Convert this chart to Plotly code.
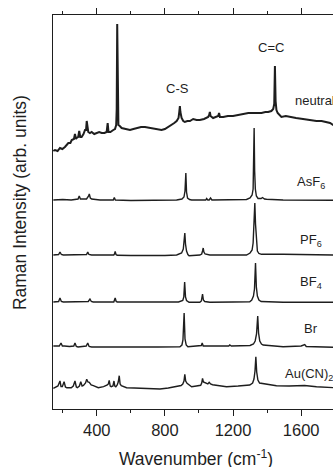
import plotly.graph_objects as go

# Raman spectra, stacked for display: (wavenumber in cm^-1, intensity in arb. units)
neutral = [(145, 258), (155, 259), (170, 258), (184, 261), (198, 260), (213, 262), (233, 266), (245, 266),
           (253, 269), (266, 270), (272, 275), (278, 270), (282, 271), (291, 272), (297, 278), (303, 272),
           (311, 272), (322, 275), (331, 279), (337, 279), (341, 288), (345, 279), (350, 277), (360, 276),
           (370, 277), (385, 275), (399, 276), (414, 277), (429, 276), (445, 276), (458, 277), (464, 286),
           (469, 277), (480, 277), (497, 279), (507, 280), (514, 284), (517, 300), (520, 385), (523, 295),
           (527, 284), (535, 283), (546, 281), (570, 280), (595, 279), (615, 280), (634, 281), (660, 282),
           (683, 282), (712, 281), (740, 280), (761, 279), (780, 279), (800, 280), (820, 282), (839, 284),
           (855, 286), (869, 288), (880, 291), (885, 298), (888, 303), (891, 297), (898, 291), (908, 288),
           (917, 287), (932, 288), (947, 288), (966, 290), (986, 289), (1005, 289), (1030, 290), (1054, 292),
           (1060, 294), (1064, 297), (1068, 293), (1083, 291), (1100, 292), (1113, 293), (1118, 296),
           (1123, 292), (1142, 292), (1170, 293), (1200, 293), (1230, 294), (1259, 295), (1290, 296),
           (1318, 296), (1340, 296), (1367, 296), (1390, 297), (1406, 297), (1425, 298), (1436, 300),
           (1442, 305), (1446, 343), (1450, 308), (1455, 299), (1462, 296), (1484, 292), (1510, 293),
           (1533, 292), (1570, 291), (1611, 290), (1650, 289), (1690, 288), (1720, 288), (1748, 287),
           (1770, 286), (1787, 284), (1800, 283)]

asf6 = [(145, 209), (200, 209.5), (250, 209), (290, 210), (297, 213), (304, 210), (321, 210), (340, 210),
        (352, 213), (356, 215), (362, 211), (370, 210), (419, 209), (497, 209), (503, 211.5), (509, 209),
        (600, 208.5), (712, 208.5), (800, 208.5), (869, 209), (900, 210), (912, 212), (918, 218), (923, 236),
        (927, 217), (933, 211), (945, 209.5), (957, 209), (1000, 209), (1040, 209), (1045, 210.5),
        (1052, 209), (1060, 209), (1068, 211), (1076, 209), (1083, 209), (1200, 209), (1279, 209.5),
        (1300, 211), (1312, 214), (1318, 220), (1321, 240), (1324, 281), (1327, 238), (1331, 220),
        (1337, 213), (1347, 210.5), (1365, 210.5), (1373, 211.5), (1385, 210), (1397, 209.7), (1494, 209),
        (1600, 209), (1690, 208.7), (1800, 208.7)]

pf6 = [(145, 154), (176, 154.5), (184, 157), (192, 154.5), (204, 154), (260, 154), (312, 154), (340, 154.5),
       (347, 157), (354, 154.5), (370, 154), (450, 154), (500, 154), (504, 155), (508, 157.5), (513, 154.5),
       (520, 153.7), (600, 153.5), (712, 153.3), (800, 153.5), (869, 154), (898, 156), (908, 160),
       (913, 166), (917, 176), (921, 165), (927, 158), (935, 154.5), (942, 153.3), (1005, 154), (1016, 155),
       (1021, 158), (1025, 161), (1029, 157), (1036, 155), (1064, 154), (1200, 154), (1279, 154),
       (1300, 156), (1312, 159), (1318, 166), (1322, 185), (1328, 206), (1332, 185), (1337, 166),
       (1343, 158), (1352, 155.5), (1367, 154.7), (1494, 154.7), (1600, 154.5), (1800, 154)]

bf4 = [(145, 107), (176, 107.5), (184, 111), (192, 107.5), (204, 107), (312, 107.5), (350, 107.5), (360, 110),
       (368, 107.5), (379, 107), (500, 107), (508, 111), (514, 107.5), (520, 107), (712, 106.7), (880, 107),
       (905, 108.5), (911, 112), (916, 127), (921, 112), (927, 108.5), (942, 106.7), (1005, 106.7),
       (1014, 108), (1021, 115), (1026, 109), (1034, 107.5), (1064, 106.7), (1200, 107), (1298, 107.3),
       (1310, 109), (1320, 113), (1326, 120), (1332, 146), (1337, 122), (1343, 113), (1352, 109),
       (1365, 107.5), (1494, 106.7), (1800, 106.7)]

br = [(145, 63), (180, 63), (190, 66), (198, 63), (210, 63), (240, 62.5), (265, 63), (272, 66), (280, 62.5),
      (290, 62), (338, 63), (347, 66), (355, 62.5), (370, 62), (500, 62), (614, 61.7), (760, 62), (888, 62.3),
      (900, 64), (906, 69), (913, 96), (918, 70), (925, 64), (935, 62.3), (1005, 63), (1014, 63.5),
      (1019, 66), (1025, 63), (1050, 63), (1100, 62.8), (1175, 63), (1181, 64), (1190, 63), (1300, 63.5),
      (1320, 65), (1330, 68), (1338, 75), (1345, 93), (1350, 76), (1357, 68), (1367, 65), (1377, 64),
      (1450, 62.5), (1494, 62.3), (1600, 63), (1621, 64.5), (1630, 62.5), (1700, 62), (1800, 61.7)]

aucn2 = [(145, 20.7), (160, 22), (172, 23), (184, 28), (190, 22.5), (198, 22.5), (208, 27.3), (216, 22),
         (224, 21.3), (250, 21.3), (262, 23), (272, 28), (280, 22), (286, 21.3), (298, 23), (306, 27.3),
         (314, 23), (322, 23.5), (334, 26), (341, 29.7), (348, 27), (356, 26.7), (367, 24), (380, 23.3),
         (395, 22), (409, 21.3), (440, 22.3), (455, 23), (462, 24), (468, 25), (473, 28.7), (479, 23),
         (485, 22.3), (495, 23), (501, 28), (506, 23), (512, 22.3), (520, 24), (526, 27), (532, 33.3),
         (537, 25), (544, 23.3), (560, 22), (575, 21.3), (620, 21), (673, 20.7), (720, 20.5), (771, 20),
         (820, 21), (869, 22.3), (895, 23.5), (905, 25), (912, 28), (917, 34.7), (922, 28), (930, 25.7),
         (957, 22.3), (985, 23), (1010, 23.7), (1016, 26), (1021, 30.7), (1026, 27), (1040, 25.7),
         (1052, 25), (1060, 26.7), (1068, 25), (1080, 24.3), (1120, 23), (1162, 22.3), (1230, 23),
         (1298, 24), (1315, 26), (1323, 30), (1329, 38), (1334, 52.3), (1339, 37), (1346, 29), (1356, 26),
         (1367, 25.7), (1410, 24.5), (1455, 23.3), (1530, 23), (1600, 23), (1620, 23.5), (1690, 22.3),
         (1800, 21.3)]

x_tick_values = [400, 800, 1200, 1600]
x_minor_ticks = [200, 600, 1000, 1400, 1800]

series = [(neutral, 2.0), (asf6, 1.4), (pf6, 1.4), (bf4, 1.4), (br, 1.4), (aucn2, 1.4)]

FONT = "Liberation Sans, Arial, sans-serif"
INK = "#1e1e1e"

fig = go.Figure()
for spectrum, w in series:
    wn, inten = zip(*spectrum)
    fig.add_trace(go.Scatter(x=list(wn), y=list(inten), mode="lines",
                             line=dict(color=INK, width=w), showlegend=False,
                             hoverinfo="skip"))

labels = [
    ("C-S", 876, 321, "center"),
    ("C=C", 1422, 361.5, "center"),
    ("neutral", 1550, 308.5, "left"),
    ("AsF<sub>6</sub>", 1562, 226.5, "left"),
    ("PF<sub>6</sub>", 1580, 168.5, "left"),
    ("BF<sub>4</sub>", 1580, 126.5, "left"),
    ("Br", 1603, 80.5, "left"),
    ("Au(CN)<sub>2</sub>", 1494, 34.5, "left"),
]
for text, x, y, anchor in labels:
    fig.add_annotation(x=x, y=y, text=text, showarrow=False, xanchor=anchor, yanchor="middle",
                       font=dict(family=FONT, size=13, color=INK))

# axis titles
fig.add_annotation(xref="paper", yref="paper", x=0.51, y=-0.124, yanchor="middle", xanchor="center",
                   text="Wavenumber (cm<sup>-1</sup>)", showarrow=False,
                   font=dict(family=FONT, size=17.5, color=INK))
fig.add_annotation(xref="paper", yref="paper", x=-0.118, y=0.525, xanchor="center", yanchor="middle",
                   text="Raman Intensity (arb. units)", textangle=-90, showarrow=False,
                   font=dict(family=FONT, size=17.5, color=INK))

fig.update_layout(
    width=333, height=467,
    margin=dict(l=53, r=0, t=15, b=58),
    paper_bgcolor="white", plot_bgcolor="white",
    font=dict(family=FONT, color=INK),
)
fig.update_xaxes(
    range=[143, 1787], tickvals=x_tick_values, ticktext=[str(v) for v in x_tick_values],
    showline=True, linecolor=INK, linewidth=1.2, mirror="ticks",
    ticks="outside", ticklen=6, tickwidth=1.2, tickcolor=INK,
    minor=dict(tickvals=x_minor_ticks, ticks="outside", ticklen=3, tickwidth=1.2, tickcolor=INK),
    showgrid=False, zeroline=False, tickfont=dict(family=FONT, size=16.5, color=INK),
)
fig.update_yaxes(
    range=[0, 394], showline=True, linecolor=INK, linewidth=1.2, mirror=False,
    ticks="", showticklabels=False, showgrid=False, zeroline=False,
)

fig.write_html("out.html")
